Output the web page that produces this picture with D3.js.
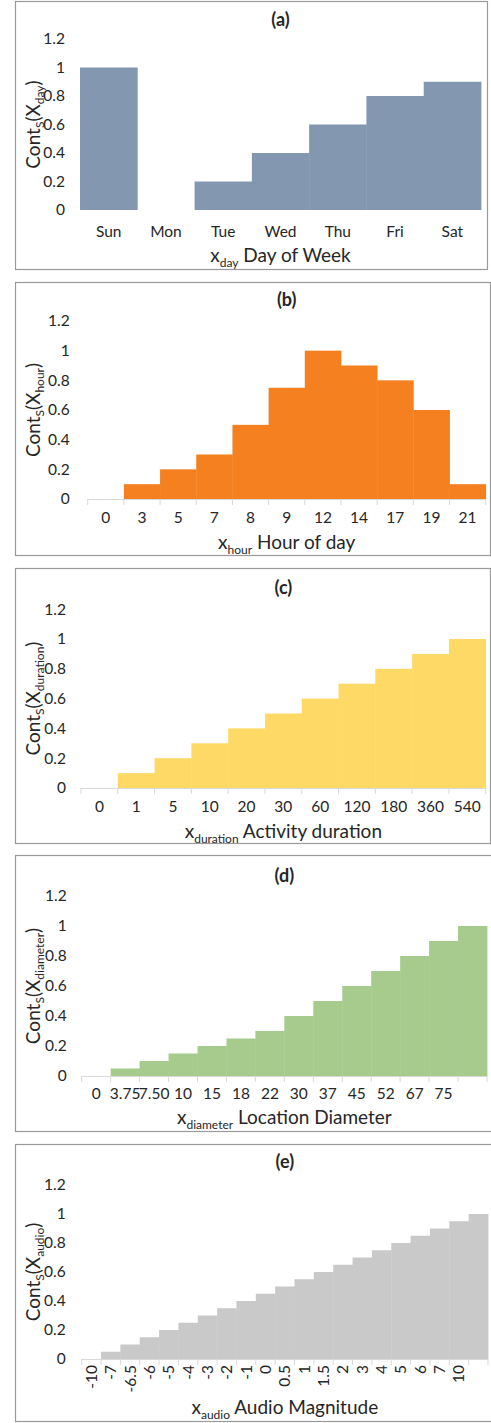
<!DOCTYPE html>
<html>
<head>
<meta charset="utf-8">
<script src="https://cdn.jsdelivr.net/npm/d3@7"></script>
<style>
  html, body { margin: 0; padding: 0; background: #fff; }
  svg { display: block; }
  text { font-family: Lato, "Open Sans", sans-serif; fill: #262626; }
</style>
</head>
<body>
<svg id="chart" width="491" height="1423"></svg>
<script>
// ---- data ----
const dayCats = ["Sun", "Mon", "Tue", "Wed", "Thu", "Fri", "Sat"];
const dayVals = [1, 0, 0.2, 0.4, 0.6, 0.8, 0.9];

const hourCats = ["0", "3", "5", "7", "8", "9", "12", "14", "17", "19", "21"];
const hourVals = [0, 0.1, 0.2, 0.3, 0.5, 0.75, 1, 0.9, 0.8, 0.6, 0.1];

const durationCats = ["0", "1", "5", "10", "20", "30", "60", "120", "180", "360", "540"];
const durationVals = [0, 0.1, 0.2, 0.3, 0.4, 0.5, 0.6, 0.7, 0.8, 0.9, 1];

const diameterCats = ["0", "3.75", "7.50", "10", "15", "18", "22", "30", "37", "45", "52", "67", "75", ""];
const diameterVals = [0, 0.05, 0.1, 0.15, 0.2, 0.25, 0.3, 0.4, 0.5, 0.6, 0.7, 0.8, 0.9, 1];

const audioCats = ["-10", "-7", "-6.5", "-6", "-5", "-4", "-3", "-2", "-1", "0", "0.5", "1", "1.5", "2", "3", "4", "5", "6", "7", "10", ""];
const audioVals = [0, 0.05, 0.1, 0.15, 0.2, 0.25, 0.3, 0.35, 0.4, 0.45, 0.5, 0.55, 0.6, 0.65, 0.7, 0.75, 0.8, 0.85, 0.9, 0.95, 1];

const yTicks = [0, 0.2, 0.4, 0.6, 0.8, 1, 1.2];

// ---- layout ----
const panels = [
  { id: "(a)", cats: dayCats, vals: dayVals, color: "#8497B0", sub: "day", xname: "Day of Week",
    frame: [15, 1, 472, 268], x0: 80, x1: 481, y0: 210, ytop: 39, titleY: 20, tickY: 232, xTitleY: 255, axis: false, rot: false, pad: 15 },
  { id: "(b)", cats: hourCats, vals: hourVals, color: "#F5801F", sub: "hour", xname: "Hour of day",
    frame: [15, 282, 475, 273], x0: 87.7, x1: 485.7, y0: 499, ytop: 321, titleY: 300, tickY: 518, xTitleY: 542, axis: true, rot: false, pad: 18 },
  { id: "(c)", cats: durationCats, vals: durationVals, color: "#FFD966", sub: "duration", xname: "Activity duration",
    frame: [15, 568, 475, 275], x0: 81, x1: 485.7, y0: 788, ytop: 609.2, titleY: 588, tickY: 807, xTitleY: 831, axis: true, rot: false, pad: 15 },
  { id: "(d)", cats: diameterCats, vals: diameterVals, color: "#A6CB8C", sub: "diameter", xname: "Location Diameter",
    frame: [15, 855, 482, 276], x0: 81.7, x1: 487, y0: 1076, ytop: 896, titleY: 876, tickY: 1094, xTitleY: 1117, axis: true, rot: false, pad: 15 },
  { id: "(e)", cats: audioCats, vals: audioVals, color: "#C9C9C9", sub: "audio", xname: "Audio Magnitude",
    frame: [15, 1144, 482, 277], x0: 81.7, x1: 488, y0: 1359, ytop: 1185, titleY: 1162, tickY: 1365, xTitleY: 1407, axis: true, rot: true, pad: 16 }
];

const svg = d3.select("#chart");

panels.forEach(p => {
  const g = svg.append("g");
  const [fx, fy, fw, fh] = p.frame;
  g.append("rect").attr("x", fx + 0.5).attr("y", fy + 0.5).attr("width", fw).attr("height", fh)
    .attr("fill", "none").attr("stroke", "#9a9a9a").attr("stroke-width", 1.2);

  const idx = p.cats.map((_, i) => i);
  const x = d3.scaleBand().domain(idx).range([p.x0, p.x1]).paddingInner(0).paddingOuter(0);
  const y = d3.scaleLinear().domain([0, 1.2]).range([p.y0, p.ytop]);

  // bars
  g.append("g").selectAll("rect").data(p.vals).join("rect")
    .attr("x", (d, i) => x(i))
    .attr("width", x.bandwidth() + 0.4)
    .attr("y", d => y(d))
    .attr("height", d => y(0) - y(d))
    .attr("fill", p.color);

  // x axis line and boundary ticks
  if (p.axis) {
    g.append("line").attr("x1", p.x0).attr("x2", p.x1).attr("y1", y(0) + 0.5).attr("y2", y(0) + 0.5)
      .attr("stroke", "#d9d9d9").attr("stroke-width", 1);
    const bounds = idx.map(i => x(i)).concat([x(idx[idx.length - 1]) + x.bandwidth()]);
    g.append("g").selectAll("line").data(bounds).join("line")
      .attr("x1", d => d).attr("x2", d => d).attr("y1", y(0)).attr("y2", y(0) + 6)
      .attr("stroke", "#d9d9d9").attr("stroke-width", 1);
  }

  // x tick labels
  const xa = g.append("g").attr("transform", `translate(0,${p.y0})`)
    .call(d3.axisBottom(x).tickSize(0).tickFormat(i => p.cats[i]));
  xa.select(".domain").remove();
  xa.selectAll("text").attr("font-size", 15.5).attr("font-family", "Lato, sans-serif").attr("fill", "#262626");
  if (p.rot) {
    xa.selectAll("text")
      .attr("transform", `translate(0,${p.tickY - p.y0}) rotate(-90)`)
      .attr("x", 0).attr("y", 0).attr("dy", "0.35em").attr("text-anchor", "end");
  } else {
    xa.selectAll("text").attr("y", p.tickY - p.y0).attr("dy", "0.35em");
  }

  // y axis labels
  const ya = g.append("g").attr("transform", `translate(${p.x0},0)`)
    .call(d3.axisLeft(y).tickValues(yTicks).tickSize(0).tickPadding(p.pad).tickFormat(d3.format("~g")));
  ya.select(".domain").remove();
  ya.selectAll("text").attr("font-size", 15.5).attr("font-family", "Lato, sans-serif").attr("fill", "#262626");

  // panel title
  g.append("text").attr("x", (p.x0 + p.x1) / 2).attr("y", p.titleY).attr("dy", "0.35em")
    .attr("text-anchor", "middle").attr("font-weight", "bold").attr("font-size", 18).text(p.id);

  // x axis title
  const xt = g.append("text").attr("x", (p.x0 + p.x1) / 2).attr("y", p.xTitleY).attr("dy", "0.35em")
    .attr("text-anchor", "middle").attr("font-size", 19);
  xt.append("tspan").text("x");
  xt.append("tspan").attr("font-size", 12).attr("dy", "5").text(p.sub);
  xt.append("tspan").attr("dy", "-5").text(" " + p.xname);

  // y axis title
  const yc = (p.y0 + p.ytop) / 2;
  const yt = g.append("text").attr("transform", `translate(33,${yc}) rotate(-90)`)
    .attr("text-anchor", "middle").attr("dy", "0.35em").attr("font-size", 19);
  yt.append("tspan").text("Cont");
  yt.append("tspan").attr("font-size", 12).attr("dy", "4").text("S");
  yt.append("tspan").attr("dy", "-4").text("(X");
  yt.append("tspan").attr("font-size", 12).attr("dy", "4").text(p.sub);
  yt.append("tspan").attr("dy", "-4").text(")");
});
</script>
</body>
</html>
